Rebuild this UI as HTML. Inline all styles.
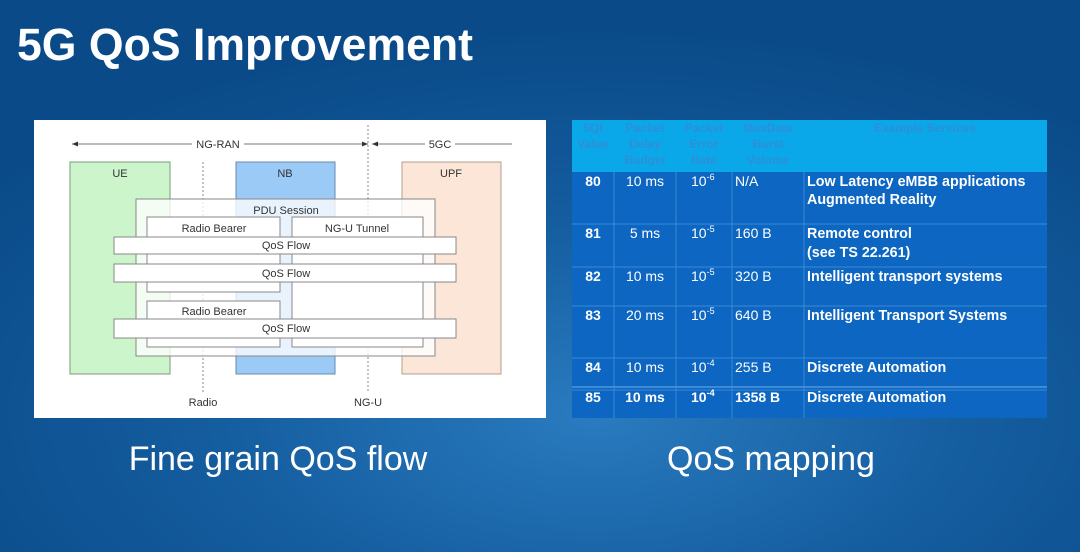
<!DOCTYPE html>
<html><head><meta charset="utf-8"><style>
html,body{margin:0;padding:0;}
body{width:1080px;height:552px;overflow:hidden;background:#0a4c8a;}
svg{display:block;}
svg text{font-family:"Liberation Sans",sans-serif;}
</style></head><body>
<svg width="1080" height="552" viewBox="0 0 1080 552" xmlns="http://www.w3.org/2000/svg">
<defs>
<radialGradient id="bg" cx="0.55" cy="0.75" r="0.7">
<stop offset="0" stop-color="#2a7bc0"/>
<stop offset="0.5" stop-color="#145d9f"/>
<stop offset="1" stop-color="#0a4a88"/>
</radialGradient>
</defs>
<rect width="1080" height="552" fill="url(#bg)"/>
<text x="17" y="60" font-size="45" font-weight="bold" fill="#fff" textLength="456" lengthAdjust="spacingAndGlyphs">5G QoS Improvement</text>

<!-- diagram -->
<rect x="34" y="120" width="512" height="298" fill="#fff"/>
<g font-size="11" fill="#333" text-anchor="middle">
<line x1="72" y1="144" x2="368" y2="144" stroke="#777"/>
<line x1="372" y1="144" x2="512" y2="144" stroke="#777"/>
<polygon points="72,144 78,141.5 78,146.5" fill="#333"/>
<polygon points="368,144 362,141.5 362,146.5" fill="#333"/>
<polygon points="372,144 378,141.5 378,146.5" fill="#333"/>
<rect x="192" y="137" width="52" height="13" fill="#fff"/>
<text x="218" y="148">NG-RAN</text>
<rect x="425" y="137" width="30" height="13" fill="#fff"/>
<text x="440" y="148">5GC</text>
<line x1="368" y1="125" x2="368" y2="393" stroke="#888" stroke-dasharray="2,2"/>
<line x1="203" y1="162" x2="203" y2="393" stroke="#888" stroke-dasharray="2,2"/>
<rect x="70" y="162" width="100" height="212" fill="#ccf5cc" stroke="#7a9a7a"/>
<rect x="236" y="162" width="99" height="212" fill="#9ccaf6" stroke="#6a8aaa"/>
<rect x="402" y="162" width="99" height="212" fill="#fbe6d8" stroke="#b0a090"/>
<text x="120" y="177">UE</text>
<text x="285" y="177">NB</text>
<text x="451" y="177">UPF</text>
<rect x="136" y="199" width="299" height="157" fill="#fff" fill-opacity="0.78" stroke="#888"/>
<text x="286" y="214">PDU Session</text>
<rect x="147" y="217" width="133" height="75" fill="#fff" stroke="#888"/>
<rect x="292" y="217" width="131" height="130" fill="#fff" stroke="#888"/>
<rect x="147" y="301" width="133" height="46" fill="#fff" stroke="#888"/>
<text x="214" y="232">Radio Bearer</text>
<text x="357" y="232">NG-U Tunnel</text>
<text x="214" y="315">Radio Bearer</text>
<rect x="114" y="237" width="342" height="17" fill="#fff" stroke="#888"/>
<rect x="114" y="264" width="342" height="18" fill="#fff" stroke="#888"/>
<rect x="114" y="319" width="342" height="19" fill="#fff" stroke="#888"/>
<text x="286" y="249">QoS Flow</text>
<text x="286" y="277">QoS Flow</text>
<text x="286" y="332">QoS Flow</text>
<text x="203" y="406">Radio</text>
<text x="368" y="406">NG-U</text>
</g>

<!-- table -->
<rect x="572" y="120" width="475" height="52" fill="#0aa8e8"/>
<rect x="572" y="172" width="475" height="246" fill="#0c66c2"/>
<g stroke="#3d8ad6" stroke-width="1">
<line x1="614" y1="172" x2="614" y2="418"/>
<line x1="676" y1="172" x2="676" y2="418"/>
<line x1="732" y1="172" x2="732" y2="418"/>
<line x1="804" y1="172" x2="804" y2="418"/>
<line x1="572" y1="224" x2="1047" y2="224"/>
<line x1="572" y1="267" x2="1047" y2="267"/>
<line x1="572" y1="306" x2="1047" y2="306"/>
<line x1="572" y1="358" x2="1047" y2="358"/>
<line x1="572" y1="387" x2="1047" y2="387" stroke-width="2"/>
<line x1="572" y1="390" x2="1047" y2="390"/>
</g>
<g font-size="12" font-weight="bold" fill="#2d8fd8" text-anchor="middle">
<text x="593" y="132">5QI</text><text x="593" y="148">Value</text>
<text x="645" y="132">Packet</text><text x="645" y="148">Delay</text><text x="645" y="164">Budget</text>
<text x="704" y="132">Packet</text><text x="704" y="148">Error</text><text x="704" y="164">Rate</text>
<text x="768" y="132">MaxData</text><text x="768" y="148">Burst</text><text x="768" y="164">Volume</text>
<text x="925" y="132">Example Services</text>
</g>
<g font-size="14" fill="#fff">
<g font-weight="bold" text-anchor="middle">
<text x="593" y="186">80</text><text x="593" y="238">81</text><text x="593" y="281">82</text>
<text x="593" y="320">83</text><text x="593" y="372">84</text><text x="593" y="402">85</text>
</g>
<g text-anchor="middle">
<text x="645" y="186">10 ms</text><text x="645" y="238">5 ms</text><text x="645" y="281">10 ms</text>
<text x="645" y="320">20 ms</text><text x="645" y="372">10 ms</text>
<text x="645" y="402" font-weight="bold">10 ms</text>
</g>
<text x="691" y="186">10<tspan font-size="9" dy="-6">-6</tspan></text>
<text x="691" y="238">10<tspan font-size="9" dy="-6">-5</tspan></text>
<text x="691" y="281">10<tspan font-size="9" dy="-6">-5</tspan></text>
<text x="691" y="320">10<tspan font-size="9" dy="-6">-5</tspan></text>
<text x="691" y="372">10<tspan font-size="9" dy="-6">-4</tspan></text>
<text x="691" y="402" font-weight="bold">10<tspan font-size="9" dy="-6">-4</tspan></text>
<text x="735" y="186">N/A</text><text x="735" y="238">160 B</text><text x="735" y="281">320 B</text>
<text x="735" y="320">640 B</text><text x="735" y="372">255 B</text>
<text x="735" y="402" font-weight="bold">1358 B</text>
<g font-weight="bold" font-size="14.3">
<text x="807" y="186">Low Latency eMBB applications</text>
<text x="807" y="204">Augmented Reality</text>
<text x="807" y="238">Remote control</text>
<text x="807" y="257">(see TS 22.261)</text>
<text x="807" y="281">Intelligent transport systems</text>
<text x="807" y="320">Intelligent Transport Systems</text>
<text x="807" y="372">Discrete Automation</text>
<text x="807" y="402">Discrete Automation</text>
</g>
</g>

<text x="278" y="470" font-size="34" fill="#fff" text-anchor="middle">Fine grain QoS flow</text>
<text x="771" y="470" font-size="34" fill="#fff" text-anchor="middle">QoS mapping</text>
</svg>
</body></html>
